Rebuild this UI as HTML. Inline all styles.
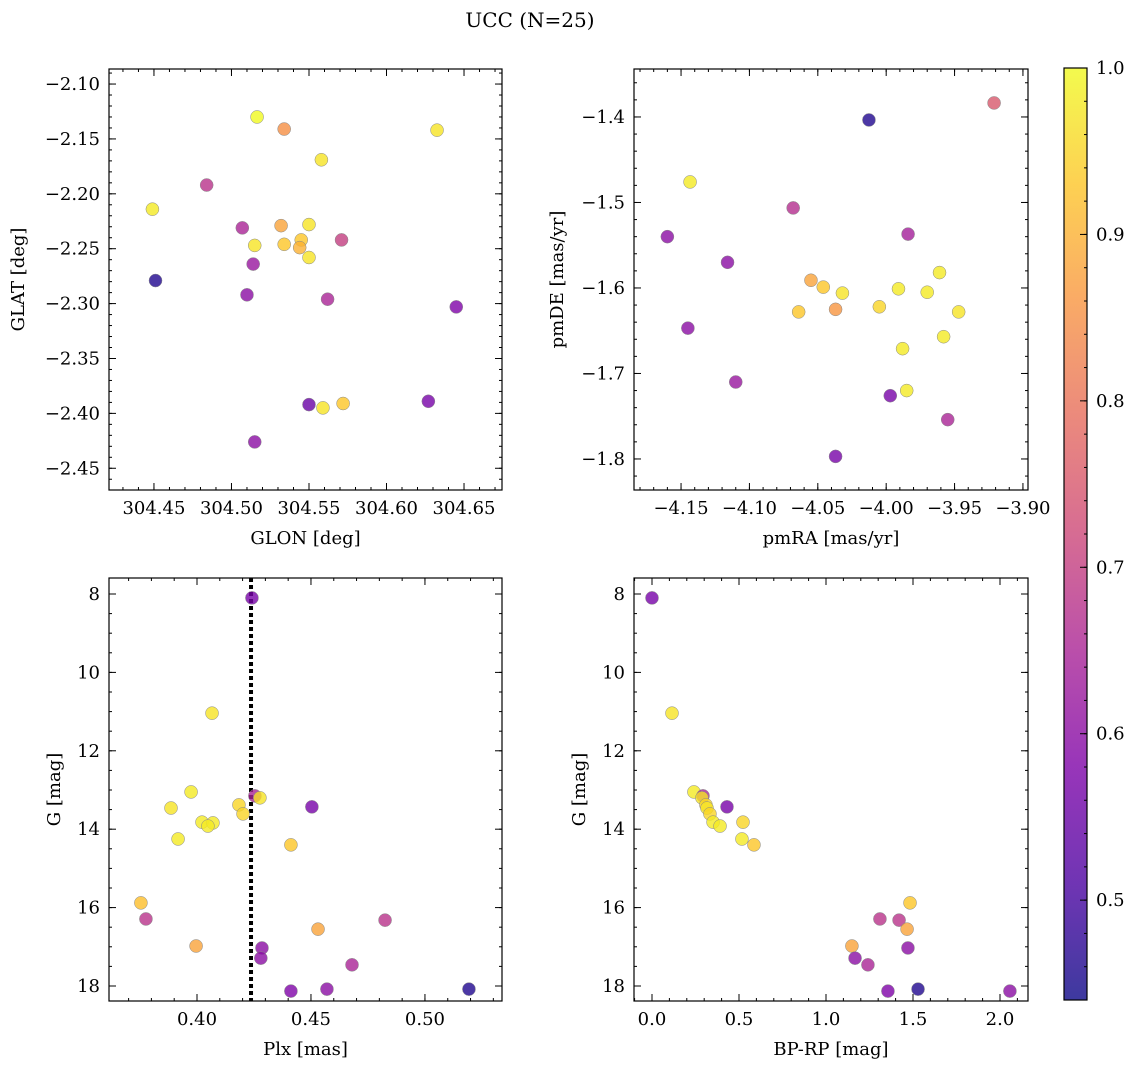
<!DOCTYPE html>
<html><head><meta charset="utf-8"><style>
body{margin:0;background:#fff}
svg text{font-family:"DejaVu Serif","Liberation Serif",serif;fill:#000}
</style></head><body>
<svg id="fig" width="1136" height="1068" viewBox="0 0 1136 1068" xmlns="http://www.w3.org/2000/svg">
<defs><linearGradient id="cg" x1="0" y1="1" x2="0" y2="0">
<stop offset="0" stop-color="#0d0887"/><stop offset="0.125" stop-color="#4c02a1"/><stop offset="0.25" stop-color="#7e03a8"/><stop offset="0.375" stop-color="#a92395"/><stop offset="0.5" stop-color="#cc4778"/><stop offset="0.625" stop-color="#e66c5c"/><stop offset="0.75" stop-color="#f89540"/><stop offset="0.875" stop-color="#fdc527"/><stop offset="1" stop-color="#f0f921"/></linearGradient></defs>
<text x="530" y="27" font-size="20" text-anchor="middle">UCC (N=25)</text>
</svg>
<script>
// Panel 1: GLON vs GLAT
const glon=[304.5165,304.534,304.6326,304.558,304.484,304.449,304.507,304.532,304.550,304.515,304.534,304.545,304.544,304.550,304.571,304.514,304.451,304.510,304.562,304.645,304.550,304.559,304.572,304.627,304.515];
const glat=[-2.130,-2.141,-2.142,-2.169,-2.192,-2.214,-2.231,-2.229,-2.228,-2.247,-2.246,-2.242,-2.249,-2.258,-2.242,-2.264,-2.279,-2.292,-2.296,-2.303,-2.392,-2.395,-2.391,-2.389,-2.426];
const prob1=[1.0,0.85,0.97,0.97,0.68,0.98,0.65,0.88,0.97,0.97,0.93,0.93,0.9,0.97,0.7,0.62,0.46,0.6,0.65,0.58,0.55,0.97,0.93,0.57,0.6];
// Panel 2: pmRA vs pmDE
const pmra=[-4.0126,-3.9211,-4.1434,-4.068,-4.160,-3.984,-4.116,-4.145,-4.110,-4.055,-4.046,-4.032,-4.037,-4.064,-4.005,-3.991,-3.970,-3.961,-3.947,-3.958,-3.988,-3.985,-3.997,-3.955,-4.037];
const pmde=[-1.4035,-1.3836,-1.476,-1.5064,-1.540,-1.537,-1.570,-1.647,-1.710,-1.591,-1.599,-1.606,-1.625,-1.628,-1.622,-1.601,-1.605,-1.582,-1.628,-1.657,-1.671,-1.720,-1.726,-1.754,-1.797];
const prob2=[0.46,0.75,0.98,0.67,0.6,0.64,0.6,0.6,0.62,0.88,0.93,0.97,0.86,0.93,0.95,0.98,0.98,0.98,0.97,0.98,0.98,0.98,0.57,0.65,0.57];
// Panel 3: Plx vs G
const plx=[0.4241,0.4066,0.3974,0.3886,0.4254,0.4276,0.4184,0.4202,0.4022,0.407,0.4048,0.3917,0.4412,0.4504,0.3754,0.3776,0.3996,0.4285,0.428,0.4531,0.4825,0.468,0.4412,0.457,0.5193];
const gmag3=[8.10,11.04,13.05,13.46,13.15,13.2,13.38,13.61,13.82,13.84,13.92,14.25,14.40,13.43,15.88,16.29,16.98,17.03,17.29,16.55,16.32,17.46,18.13,18.08,18.08];
const prob3=[0.57,0.97,0.98,0.97,0.65,0.97,0.95,0.95,0.98,0.98,0.98,0.98,0.93,0.57,0.92,0.68,0.88,0.6,0.6,0.88,0.68,0.65,0.58,0.6,0.46];
const plxLine=0.4237;
// Panel 4: BP-RP vs G
const bprp=[0.0,0.115,0.241,0.293,0.287,0.31,0.316,0.333,0.431,0.351,0.391,0.523,0.517,0.586,1.483,1.310,1.420,1.466,1.471,1.149,1.167,1.241,1.356,1.529,2.057];
const gmag4=[8.10,11.04,13.05,13.15,13.2,13.38,13.46,13.61,13.43,13.82,13.92,13.82,14.25,14.40,15.88,16.29,16.32,16.55,17.03,16.98,17.29,17.46,18.13,18.08,18.13];
const prob4=[0.57,0.97,0.98,0.65,0.97,0.95,0.97,0.95,0.57,0.98,0.98,0.95,0.98,0.93,0.93,0.68,0.68,0.88,0.6,0.88,0.6,0.65,0.58,0.46,0.6];
const cbTicks=[0.5,0.6,0.7,0.8,0.9,1.0];
const cMin=0.44,cMax=1.0;

const NS="http://www.w3.org/2000/svg";
const svg=document.getElementById('fig');
function mk(tag,attrs,parent){const e=document.createElementNS(NS,tag);for(const k in attrs)e.setAttribute(k,attrs[k]);(parent||svg).appendChild(e);return e;}
const stops=[[0,[13,8,135]],[0.125,[76,2,161]],[0.25,[126,3,168]],[0.375,[169,35,149]],[0.5,[204,71,120]],[0.625,[230,108,92]],[0.75,[248,149,64]],[0.875,[253,197,39]],[1,[240,249,33]]];
function cmap(p){let t=(p-cMin)/(cMax-cMin);t=Math.max(0,Math.min(1,t));for(let i=1;i<stops.length;i++){if(t<=stops[i][0]){const a=stops[i-1],b=stops[i];const f=(t-a[0])/(b[0]-a[0]);const c=a[1].map((v,j)=>Math.round(v+(b[1][j]-v)*f));return `rgb(${c})`;}}return 'rgb(240,249,33)';}
function fmt(v,d){let s=v.toFixed(d);return s.replace('-','\u2212');}

function panel(o){
  const g=mk('g',{});
  
  
  const {x0,x1,y0,y1,xd,yd}=o;
  const sx=v=>x0+(v-xd[0])/(xd[1]-xd[0])*(x1-x0);
  const sy=v=>y0+(v-yd[0])/(yd[1]-yd[0])*(y1-y0);
  function ticks(min,max,step){const a=[];const s=Math.ceil(Math.min(min,max)/step-1e-6);const e=Math.floor(Math.max(min,max)/step+1e-6);for(let i=s;i<=e;i++)a.push(i*step);return a;}
  ticks(xd[0],xd[1],o.xminor).forEach(v=>{const X=sx(v);mk('line',{x1:X,x2:X,y1:y1,y2:y1-3,stroke:'#000','stroke-width':1},g);mk('line',{x1:X,x2:X,y1:y0,y2:y0+3,stroke:'#000','stroke-width':1},g);});
  ticks(Math.min(...yd),Math.max(...yd),o.yminor).forEach(v=>{const Y=sy(v);mk('line',{x1:x0,x2:x0+3,y1:Y,y2:Y,stroke:'#000','stroke-width':1},g);mk('line',{x1:x1,x2:x1-3,y1:Y,y2:Y,stroke:'#000','stroke-width':1},g);});
  ticks(xd[0],xd[1],o.xmajor).forEach(v=>{const X=sx(v);mk('line',{x1:X,x2:X,y1:y1,y2:y1-7,stroke:'#000','stroke-width':1},g);mk('line',{x1:X,x2:X,y1:y0,y2:y0+7,stroke:'#000','stroke-width':1},g);
    const t=mk('text',{x:X,y:y1+24,'font-size':18,'text-anchor':'middle'},g);t.textContent=fmt(v,o.xdec);
    
    });
  ticks(Math.min(...yd),Math.max(...yd),o.ymajor).forEach(v=>{const Y=sy(v);mk('line',{x1:x0,x2:x0+7,y1:Y,y2:Y,stroke:'#000','stroke-width':1},g);mk('line',{x1:x1,x2:x1-7,y1:Y,y2:Y,stroke:'#000','stroke-width':1},g);
    const t=mk('text',{x:x0-9,y:Y+6,'font-size':18,'text-anchor':'end'},g);t.textContent=fmt(v,o.ydec);
    
    });
  if(o.vline!==undefined){const X=sx(o.vline);const l=mk('line',{x1:X,x2:X,y1:y0,y2:y1,stroke:'#000','stroke-width':4,'stroke-dasharray':'4,3'},g);
    
    }
  o.xs.forEach((v,i)=>{const c=mk('circle',{cx:sx(v),cy:sy(o.ys[i]),r:6.5,fill:cmap(o.ps[i]),'fill-opacity':0.8,stroke:'#888','stroke-width':0.5},g);
    
    });
  mk('rect',{x:x0,y:y0,width:x1-x0,height:y1-y0,fill:'none',stroke:'#000','stroke-width':1.2},g);
  const xl=mk('text',{x:(x0+x1)/2,y:y1+54,'font-size':18,'text-anchor':'middle'},g);xl.textContent=o.xlabel;
  
  
  const yl=mk('text',{x:0,y:0,'font-size':18,'text-anchor':'middle',transform:`translate(${o.ylx},${(y0+y1)/2}) rotate(-90)`},g);yl.textContent=o.ylabel;
  
  
}
panel({name:'glon-glat-panel',x0:109,x1:502,y0:69,y1:490,xd:[304.421,304.6745],yd:[-2.0863,-2.4698],xmajor:0.05,xminor:0.01,ymajor:0.05,yminor:0.01,xdec:2,ydec:2,xs:glon,ys:glat,ps:prob1,xlabel:'GLON [deg]',ylabel:'GLAT [deg]',ylx:24});
panel({name:'pm-panel',x0:634,x1:1028,y0:69,y1:490,xd:[-4.1844,-3.8963],yd:[-1.3439,-1.8363],xmajor:0.05,xminor:0.01,ymajor:0.1,yminor:0.02,xdec:2,ydec:1,xs:pmra,ys:pmde,ps:prob2,xlabel:'pmRA [mas/yr]',ylabel:'pmDE [mas/yr]',ylx:563});
panel({name:'plx-g-panel',x0:109,x1:502,y0:578,y1:1001,xd:[0.3614,0.5338],yd:[7.592,18.383],xmajor:0.05,xminor:0.01,ymajor:2,yminor:0.5,xdec:2,ydec:0,xs:plx,ys:gmag3,ps:prob3,xlabel:'Plx [mas]',ylabel:'G [mag]',ylx:60,vline:plxLine});
panel({name:'cmd-panel',x0:634,x1:1028,y0:578,y1:1001,xd:[-0.1034,2.161],yd:[7.592,18.383],xmajor:0.5,xminor:0.1,ymajor:2,yminor:0.5,xdec:1,ydec:0,xs:bprp,ys:gmag4,ps:prob4,xlabel:'BP-RP [mag]',ylabel:'G [mag]',ylx:585});
const cb=mk('g',{});


const cy0=68,cy1=1000,cx=1064,cw=23;
mk('rect',{x:cx,y:cy0,width:cw,height:cy1-cy0,fill:'url(#cg)','fill-opacity':0.8,stroke:'#000','stroke-width':1.2},cb);
const cy=v=>cy1-(v-cMin)/(cMax-cMin)*(cy1-cy0);
for(let v=0.46;v<=1.0001;v+=0.02){const Y=cy(v);mk('line',{x1:cx+cw,x2:cx+cw-3,y1:Y,y2:Y,stroke:'#000'},cb);}
cbTicks.forEach(v=>{const Y=cy(v);mk('line',{x1:cx+cw,x2:cx+cw-7,y1:Y,y2:Y,stroke:'#000'},cb);
  const t=mk('text',{x:cx+cw+9,y:Y+6,'font-size':18},cb);t.textContent=v.toFixed(1);
  
  });
</script>
</body></html>
